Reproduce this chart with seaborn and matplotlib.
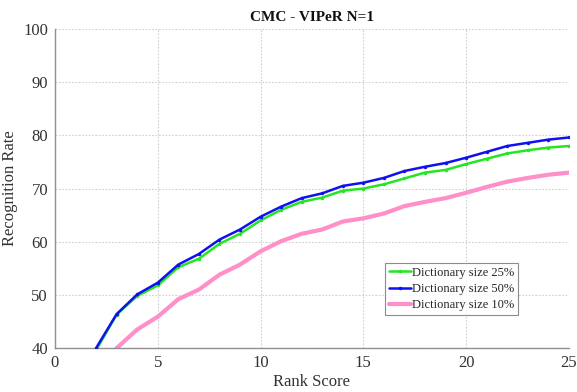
import numpy as np
import pandas as pd
import matplotlib
matplotlib.use("Agg")
import matplotlib.pyplot as plt
import seaborn as sns

ranks = list(range(1, 26))
dict25 = [28.0, 39.6, 46.3, 49.8, 51.8, 55.2, 56.8, 59.6, 61.5, 64.0, 66.0, 67.5, 68.3,
          69.6, 70.0, 70.8, 71.9, 73.0, 73.5, 74.6, 75.6, 76.6, 77.2, 77.7, 78.0]
dict50 = [28.5, 40.0, 46.4, 50.1, 52.3, 55.7, 57.7, 60.4, 62.3, 64.7, 66.6, 68.2, 69.1,
          70.5, 71.1, 72.0, 73.3, 74.1, 74.8, 75.8, 76.9, 78.0, 78.6, 79.2, 79.6]
dict10 = [22.0, 34.0, 40.0, 43.5, 45.9, 49.2, 51.0, 53.8, 55.7, 58.2, 60.1, 61.5, 62.3,
          63.8, 64.4, 65.3, 66.7, 67.5, 68.2, 69.2, 70.3, 71.3, 72.0, 72.6, 73.0]
labels = ["Dictionary size 25%", "Dictionary size 50%", "Dictionary size 10%"]
title = "CMC - VIPeR N=1"

df = pd.concat([
    pd.DataFrame({"rank": ranks, "rate": v, "series": lab})
    for v, lab in zip([dict25, dict50, dict10], labels)
])

sns.set_style("white")
plt.rcParams["font.family"] = ["Liberation Serif", "DejaVu Serif"]

fig = plt.figure(figsize=(5.77, 3.92), dpi=100)
ax = fig.add_axes([0.0953, 0.112, 0.8907, 0.814])

palette = {labels[0]: "#22e622", labels[1]: "#1010f0", labels[2]: "#ff8fc8"}
for lab in labels:
    sub = df[df["series"] == lab]
    if lab == labels[2]:
        sns.lineplot(data=sub, x="rank", y="rate", ax=ax, color=palette[lab],
                     linewidth=3.0, label=lab, zorder=2)
    else:
        sns.lineplot(data=sub, x="rank", y="rate", ax=ax, color=palette[lab],
                     linewidth=1.8, marker="o", markersize=2.5, markeredgewidth=0,
                     label=lab, zorder=3)

ax.set_xlim(0, 25)
ax.set_ylim(40, 100)
ax.set_xticks([0, 5, 10, 15, 20, 25])
ax.set_yticks([40, 50, 60, 70, 80, 90, 100])
ax.grid(True, linestyle=(0, (1.5, 1.5)), color="#d0d0d0", linewidth=0.8)
for side in ["top", "right"]:
    ax.spines[side].set_visible(False)
for side in ["left", "bottom"]:
    ax.spines[side].set_color("#909090")
    ax.spines[side].set_linewidth(1.0)
ax.tick_params(axis="both", direction="in", length=4, color="#909090",
               labelsize=12, labelcolor="#333333", pad=5)
ax.set_xlabel("Rank Score", fontsize=12, color="#333333", labelpad=2)
ax.set_ylabel("Recognition Rate", fontsize=12, color="#333333", labelpad=4)
ax.set_title(title, fontsize=11, fontweight="bold", color="#111111", pad=6)

leg = ax.legend(loc="lower left", bbox_to_anchor=(0.642, 0.103), fontsize=9,
                frameon=True, fancybox=False, edgecolor="#707070",
                handlelength=1.8, handletextpad=0.1, borderpad=0.3,
                labelspacing=0.35, borderaxespad=0)
leg.get_frame().set_linewidth(0.8)

fig.savefig("out.png", dpi=100)
